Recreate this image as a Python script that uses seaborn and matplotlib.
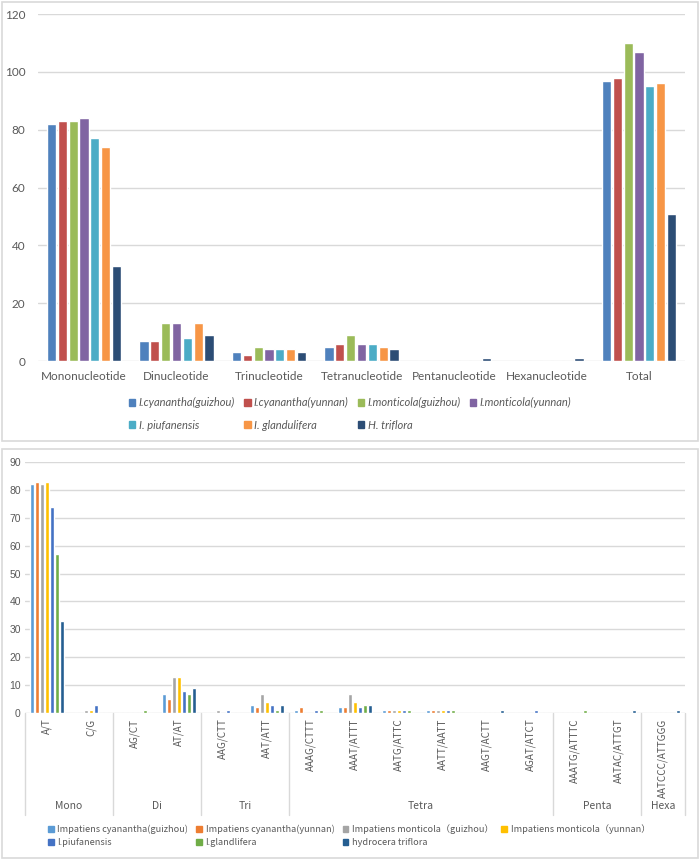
import numpy as np
import pandas as pd
import seaborn as sns
import matplotlib.pyplot as plt
from matplotlib.patches import Patch, Rectangle

# ---- top chart data ----
top_categories = ['Mononucleotide', 'Dinucleotide', 'Trinucleotide', 'Tetranucleotide',
                  'Pentanucleotide', 'Hexanucleotide', 'Total']
top_series = ['I.cyanantha(guizhou)', 'I.cyanantha(yunnan)', 'I.monticola(guizhou)',
              'I.monticola(yunnan)', 'I. piufanensis', 'I. glandulifera', 'H. triflora']
top_values = [
    [82, 7, 3, 5, 0, 0, 97],
    [83, 7, 2, 6, 0, 0, 98],
    [83, 13, 5, 9, 0, 0, 110],
    [84, 13, 4, 6, 0, 0, 107],
    [77, 8, 4, 6, 0, 0, 95],
    [74, 13, 4, 5, 0, 0, 96],
    [33, 9, 3, 4, 1, 1, 51],
]
top_colors = ['#4F81BD', '#C0504D', '#9BBB59', '#8064A2', '#4BACC6', '#F79646', '#2C4D75']

# ---- bottom chart data ----
motifs = ['A/T', 'C/G', 'AG/CT', 'AT/AT', 'AAG/CTT', 'AAT/ATT', 'AAAG/CTTT', 'AAAT/ATTT',
          'AATG/ATTC', 'AATT/AATT', 'AAGT/ACTT', 'AGAT/ATCT', 'AAATG/ATTTC', 'AATAC/ATTGT',
          'AATCCC/ATTGGG']
groups = ['Mono', 'Di', 'Tri', 'Tetra', 'Penta', 'Hexa']
group_sizes = [2, 2, 2, 6, 2, 1]
bottom_series = ['Impatiens cyanantha(guizhou)', 'Impatiens cyanantha(yunnan)',
                 'Impatiens monticola（guizhou）', 'Impatiens monticola（yunnan）',
                 'I.piufanensis', 'I.glandlifera', 'hydrocera triflora']
bottom_values = [
    [82, 0, 0, 7, 0, 3, 1, 2, 1, 1, 0, 0, 0, 0, 0],
    [83, 0, 0, 5, 0, 2, 2, 2, 1, 1, 0, 0, 0, 0, 0],
    [82, 1, 0, 13, 1, 7, 0, 7, 1, 1, 0, 0, 0, 0, 0],
    [83, 1, 0, 13, 0, 4, 0, 4, 1, 1, 0, 0, 0, 0, 0],
    [74, 3, 0, 8, 1, 3, 1, 2, 1, 1, 0, 1, 0, 0, 0],
    [57, 0, 1, 7, 0, 1, 1, 3, 1, 1, 0, 0, 1, 0, 0],
    [33, 0, 0, 9, 0, 3, 0, 3, 0, 0, 1, 0, 0, 1, 1],
]
bottom_colors = ['#5B9BD5', '#ED7D31', '#A5A5A5', '#FFC000', '#4472C4', '#70AD47', '#255E91']

sns.set_style('white')
plt.rcParams['font.family'] = ['Lato', 'DejaVu Sans']

grid_c = '#D9D9D9'
text_c = '#595959'

fig = plt.figure(figsize=(7, 8.6), dpi=100)

# panel borders
fig.add_artist(Rectangle((0.003, 0.4872), 0.994, 0.5105, transform=fig.transFigure,
                         fill=False, ec=grid_c, lw=1.2))
fig.add_artist(Rectangle((0.003, 0.0023), 0.994, 0.4757, transform=fig.transFigure,
                         fill=False, ec=grid_c, lw=1.2))

# ---------------- top chart ----------------
ax1 = fig.add_axes([0.054, 0.5802, 0.925, 0.4035])
top_df = pd.DataFrame([(c, s, v) for s, vals in zip(top_series, top_values)
                       for c, v in zip(top_categories, vals)],
                      columns=['cat', 'series', 'val'])
sns.barplot(data=top_df, x='cat', y='val', hue='series', hue_order=top_series,
            order=top_categories, palette=top_colors, width=0.82, gap=0.15,
            saturation=1, legend=False, ax=ax1)
ax1.set_ylim(0, 120)
ax1.set_yticks(range(0, 121, 20))
ax1.set_xlim(-0.5, len(top_categories) - 0.5)
ax1.grid(axis='y', color=grid_c, lw=1)
ax1.set_axisbelow(True)
sns.despine(ax=ax1, left=True, bottom=True)
ax1.set_xlabel('')
ax1.set_ylabel('')
ax1.tick_params(axis='both', length=0, labelsize=8.5, labelcolor=text_c)
ax1.tick_params(axis='y', pad=9)
ax1.tick_params(axis='x', pad=7)

h1 = [Patch(color=c) for c in top_colors]
order = [0, 4, 1, 5, 2, 6, 3]
fig.legend([h1[i] for i in order], [top_series[i] for i in order], loc='center',
           bbox_to_anchor=(0.5, 0.5186), ncol=4, frameon=False,
           prop={'style': 'italic', 'size': 8}, labelcolor=text_c,
           handlelength=0.6, handleheight=0.6, handletextpad=0.3,
           columnspacing=0.8, labelspacing=1.0)

# ---------------- bottom chart ----------------
ax2 = fig.add_axes([0.0357, 0.1709, 0.9429, 0.2919])
bot_df = pd.DataFrame([(m, s, v) for s, vals in zip(bottom_series, bottom_values)
                       for m, v in zip(motifs, vals)],
                      columns=['motif', 'series', 'val'])
sns.barplot(data=bot_df, x='motif', y='val', hue='series', hue_order=bottom_series,
            order=motifs, palette=bottom_colors, width=0.8, gap=0.1,
            saturation=1, legend=False, ax=ax2)
ax2.set_ylim(0, 90)
ax2.set_yticks(range(0, 91, 10))
ax2.set_xlim(-0.5, len(motifs) - 0.5)
ax2.grid(axis='y', color=grid_c, lw=1)
ax2.set_axisbelow(True)
sns.despine(ax=ax2, left=True, bottom=True)
ax2.set_xlabel('')
ax2.set_ylabel('')
cjk = ['Noto Sans CJK SC', 'DejaVu Sans']
ax2.tick_params(axis='both', length=0, labelcolor=text_c)
ax2.tick_params(axis='y', pad=3)
ax2.tick_params(axis='x', pad=4)
for t in ax2.get_yticklabels():
    t.set_fontfamily(['Liberation Sans'])
    t.set_fontsize(7.5)
ax2.set_xticks(range(len(motifs)))
ax2.set_xticklabels(motifs, rotation=90, fontsize=7.1, family=cjk, va='top', ha='center')

# multi-level category axis
edges = np.concatenate([[0], np.cumsum(group_sizes)]) - 0.5
tr = ax2.get_xaxis_transform()
for e in edges:
    ax2.plot([e, e], [0, -0.405], color=grid_c, lw=1, transform=tr, clip_on=False)
for g, a, b in zip(groups, edges[:-1], edges[1:]):
    ax2.text((a + b) / 2, -0.372, g, transform=tr, ha='center', va='center',
             fontsize=7.5, family=cjk, color=text_c)

h2 = [Patch(color=c) for c in bottom_colors]
fig.legend([h2[i] for i in order], [bottom_series[i] for i in order], loc='center',
           bbox_to_anchor=(0.4986, 0.0279), ncol=4, frameon=False,
           prop={'family': cjk, 'size': 6.6}, labelcolor=text_c,
           handlelength=0.6, handleheight=0.6, handletextpad=0.4,
           columnspacing=0.9, labelspacing=0.45)

fig.savefig('out.png', dpi=100)
